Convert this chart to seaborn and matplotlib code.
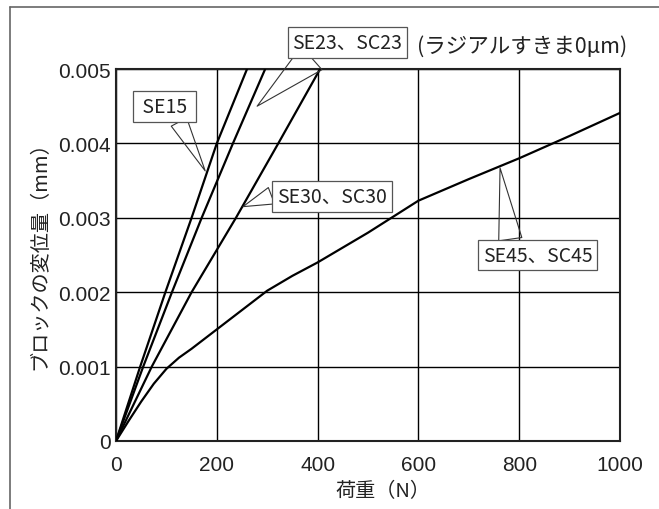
import numpy as np
import pandas as pd
import seaborn as sns
import matplotlib.pyplot as plt
from matplotlib.lines import Line2D

# Displacement curves (load N, displacement mm)
se15_load = [0, 48, 98, 150, 200, 260]
se15_disp = [0, 0.001, 0.002, 0.003, 0.004, 0.005]
se23_load = [0, 54, 111, 170, 232, 296]
se23_disp = [0, 0.001, 0.002, 0.003, 0.004, 0.005]
se30_load = [0, 71, 150, 238, 322, 405]
se30_disp = [0, 0.001, 0.002, 0.003, 0.004, 0.005]
se45_load = [0, 25, 50, 75, 100, 125, 150, 200, 250, 300, 350, 400, 500,
             600, 700, 800, 900, 1000]
se45_disp = [0, 0.00027, 0.00053, 0.00077, 0.00097, 0.00112, 0.00124, 0.0015,
             0.00176, 0.00202, 0.00222, 0.0024, 0.0028, 0.00323, 0.00352,
             0.0038, 0.0041, 0.00441]

models = ['SE15', 'SE23、SC23', 'SE30、SC30', 'SE45、SC45']
x_ticks = [0, 200, 400, 600, 800, 1000]
y_ticks = [0, 0.001, 0.002, 0.003, 0.004, 0.005]
y_tick_labels = ['0', '0.001', '0.002', '0.003', '0.004', '0.005']

frames = []
for name, xs, ys in zip(models,
                        [se15_load, se23_load, se30_load, se45_load],
                        [se15_disp, se23_disp, se30_disp, se45_disp]):
    frames.append(pd.DataFrame({'load': xs, 'disp': ys, 'model': name}))
df = pd.concat(frames, ignore_index=True)

sns.set_theme(style='white')
plt.rcParams['font.family'] = ['Liberation Sans', 'Noto Sans CJK JP', 'DejaVu Sans']

fig = plt.figure(figsize=(6.59, 5.10), dpi=100)
ax = fig.add_axes([116 / 659, 68 / 510, 504 / 659, 372 / 510])

sns.lineplot(data=df, x='load', y='disp', units='model', estimator=None,
             color='black', lw=1.6, ax=ax, zorder=3)

ax.set_xlim(0, 1000)
ax.set_ylim(0, 0.005)
ax.set_xticks(x_ticks)
ax.set_yticks(y_ticks)
ax.set_yticklabels(y_tick_labels)
ax.grid(True, color='black', lw=1.0)
ax.tick_params(length=0, labelsize=15, colors='#222222')
ax.tick_params(axis='x', pad=10)
ax.tick_params(axis='y', pad=4)
for s in ax.spines.values():
    s.set_color('#222222')
    s.set_linewidth(1.5)

jp = ['Noto Sans CJK JP', 'DejaVu Sans']
ax.set_xlabel('荷重（N）', fontsize=14.5, family=jp, color='#222222')
ax.set_ylabel('ブロックの変位量（mm）', fontsize=14.5, family=jp, color='#222222')
ax.xaxis.set_label_coords(0.53, -0.105)
ax.yaxis.set_label_coords(-0.13, 0.515)

narrow = ['Noto Sans CJK JP', 'DejaVu Sans']
box = dict(boxstyle='square,pad=0.25', fc='white', ec='#555555', lw=0.9)

# callouts: label, text position, tip position, wedge start on box, wedge width
callouts = [
    (' SE15 ', (97, 0.0045), (177, 0.00363), (0.71, 0.0), 0.9),
    ('SE23、SC23', (459, 0.00536), (280, 0.0045), (0.23, 0.0), 1.6),
    ('SE30、SC30', (428, 0.00329), (252, 0.00315), (0.0, 0.62), 0.9),
    ('SE45、SC45', (836, 0.0025), (762, 0.00367), (0.26, 1.0), 1.2),
]
for label, txt, tip, rel, tw in callouts:
    ax.annotate(label, xy=tip, xytext=txt, ha='center', va='center',
                fontsize=14, family=narrow, color='#222222', bbox=box,
                annotation_clip=False, zorder=5,
                arrowprops=dict(arrowstyle=f'wedge,tail_width={tw},shrink_factor=0.5',
                                fc='none', ec='#333333', lw=0.8, relpos=rel,
                                shrinkA=0, shrinkB=0))

ax.text(805, 0.00531, '(ラジアルすきま0μm)', ha='center', va='center',
        fontsize=15.5, family=jp, color='#222222')

# outer frame of the original figure (top and left edges)
fig.add_artist(Line2D([10 / 659, 1], [1 - 8 / 510, 1 - 8 / 510],
                      transform=fig.transFigure, color='#666666', lw=1.2))
fig.add_artist(Line2D([10 / 659, 10 / 659], [0, 1 - 8 / 510],
                      transform=fig.transFigure, color='#666666', lw=1.2))

fig.savefig('out.png', dpi=100)
